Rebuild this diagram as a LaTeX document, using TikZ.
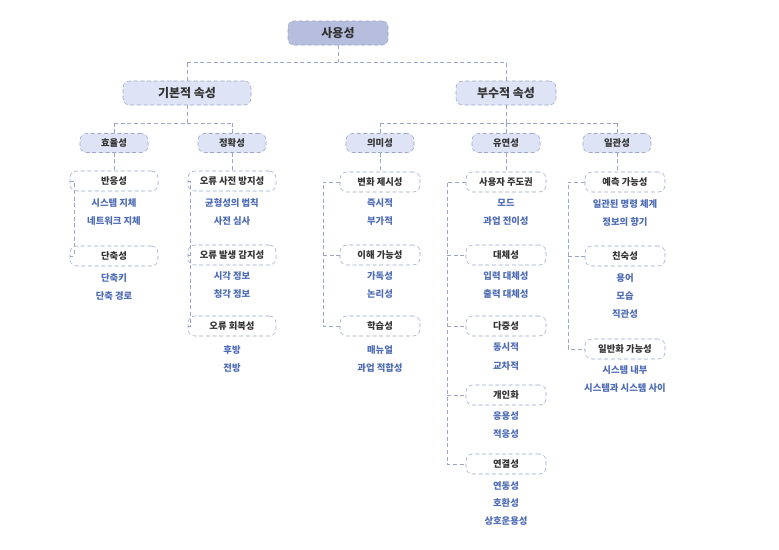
\documentclass[tikz,border=0pt]{standalone}
\usepackage{fontspec}
\setmainfont{Noto Sans CJK KR}
\begin{document}
\begin{tikzpicture}[x=0.75pt,y=-0.75pt,
  ln/.style={draw=lineC,densely dashed,line width=0.6pt},
  top/.style={draw=lineC,densely dashed,fill=topC,rounded corners=4pt,minimum width=100*0.75pt,minimum height=24*0.75pt,font=\small\bfseries,text=black!80,inner sep=0pt},
  mid/.style={draw=lineC,densely dashed,fill=midC,rounded corners=5pt,minimum height=24*0.75pt,font=\small\bfseries,text=black!80,inner sep=0pt},
  sub/.style={draw=lineC,densely dashed,fill=midC,rounded corners=5pt,minimum width=68*0.75pt,minimum height=19*0.75pt,font=\scriptsize\bfseries,text=black!80,inner sep=0pt},
  leaf/.style={draw=lineC,densely dashed,fill=white,rounded corners=5pt,minimum width=88*0.75pt,minimum height=20*0.75pt,font=\scriptsize\bfseries,text=black!80,inner sep=0pt},
  it/.style={font=\scriptsize\bfseries,text=itC,inner sep=0pt}]
\definecolor{lineC}{HTML}{9AA6CC}
\definecolor{topC}{HTML}{B7BEDD}
\definecolor{midC}{HTML}{DEE3F5}
\definecolor{itC}{HTML}{4E6CB6}
\useasboundingbox[fill=white] (0,0) rectangle (779,550);
\node[top] (root) at (338,33) {사용성};
\node[mid,minimum width=128*0.75pt] (A) at (187,93) {기본적 속성};
\node[mid,minimum width=100*0.75pt] (B) at (506,93) {부수적 속성};
\coordinate (r1) at (338,62);
\draw[ln] (root) -- (r1) (187,62) -- (506,62) (A.north) -- (187,62) (B.north) -- (506,62);
\foreach \n/\x/\t in {a1/114/효율성,a2/232/정확성,b1/380/의미성,b2/506/유연성,b3/617/일관성}
  \node[sub] (\n) at (\x,143) {\t};
\draw[ln] (A.south) -- (187,123) (114,123) -- (232,123) (a1.north) -- (114,123) (a2.north) -- (232,123);
\draw[ln] (B.south) -- (506,123) (380,123) -- (617,123) (b1.north) -- (380,123) (b2.north) -- (506,123) (b3.north) -- (617,123);
% column a1
\node[leaf] (a11) at (114,181) {반응성};
\node[leaf] (a12) at (114,256) {단축성};
\node[it] at (114,203) {시스템 지체}; \node[it] at (114,221) {네트워크 지체};
\node[it] at (114,278) {단축키}; \node[it] at (114,296) {단축 경로};
\draw[ln] (a1.south) -- (a11.north);
\draw[ln] (a11.west) -- (74,181) -- (74,256) -- (a12.west);
% column a2
\node[leaf] (a21) at (232,181) {오류 사전 방지성};
\node[leaf] (a22) at (232,255) {오류 발생 감지성};
\node[leaf] (a23) at (232,326) {오류 회복성};
\node[it] at (232,203) {균형성의 법칙}; \node[it] at (232,221) {사전 심사};
\node[it] at (232,276) {시각 정보}; \node[it] at (232,294) {청각 정보};
\node[it] at (232,350) {후방}; \node[it] at (232,368) {전방};
\draw[ln] (a2.south) -- (a21.north);
\draw[ln] (a21.west) -- (190,181) -- (190,326) -- (a23.west) (190,255) -- (a22.west);
% column b1
\node[leaf,minimum width=80*0.75pt] (b11) at (380,182) {변화 제시성};
\node[leaf,minimum width=80*0.75pt] (b12) at (380,255) {이해 가능성};
\node[leaf,minimum width=80*0.75pt] (b13) at (380,326) {학습성};
\node[it] at (380,203) {즉시적}; \node[it] at (380,221) {부가적};
\node[it] at (380,276) {가독성}; \node[it] at (380,294) {논리성};
\node[it] at (380,350) {매뉴얼}; \node[it] at (380,368) {과업 적합성};
\draw[ln] (b1.south) -- (b11.north);
\draw[ln] (b11.west) -- (323,182) -- (323,326) -- (b13.west) (323,255) -- (b12.west);
% column b2
\node[leaf,minimum width=80*0.75pt] (b21) at (506,182) {사용자 주도권};
\node[leaf,minimum width=80*0.75pt] (b22) at (506,255) {대체성};
\node[leaf,minimum width=80*0.75pt] (b23) at (506,326) {다중성};
\node[leaf,minimum width=80*0.75pt] (b24) at (506,395) {개인화};
\node[leaf,minimum width=80*0.75pt] (b25) at (506,464) {연결성};
\node[it] at (506,203) {모드}; \node[it] at (506,221) {과업 전이성};
\node[it] at (506,276) {입력 대체성}; \node[it] at (506,294) {출력 대체성};
\node[it] at (506,347) {동시적}; \node[it] at (506,366) {교차적};
\node[it] at (506,416) {응용성}; \node[it] at (506,434) {적응성};
\node[it] at (506,486) {연동성}; \node[it] at (506,503) {호환성}; \node[it] at (506,521) {상호운용성};
\draw[ln] (b2.south) -- (b21.north);
\draw[ln] (b21.west) -- (447,182) -- (447,464) -- (b25.west) (447,255) -- (b22.west) (447,326) -- (b23.west) (447,395) -- (b24.west);
% column b3
\node[leaf,minimum width=80*0.75pt] (b31) at (625,182) {예측 가능성};
\node[leaf,minimum width=80*0.75pt] (b32) at (625,256) {친숙성};
\node[leaf,minimum width=80*0.75pt] (b33) at (625,349) {일반화 가능성};
\node[it] at (625,204) {일관된 명령 체계}; \node[it] at (625,222) {정보의 향기};
\node[it] at (625,278) {용어}; \node[it] at (625,296) {모습}; \node[it] at (625,314) {직관성};
\node[it] at (625,370) {시스템 내부}; \node[it] at (625,388) {시스템과 시스템 사이};
\draw[ln] (b3.south) -- (617,172.5);
\draw[ln] (b31.west) -- (568,182) -- (568,349) -- (b33.west) (568,256) -- (b32.west);
\end{tikzpicture}
\end{document}
